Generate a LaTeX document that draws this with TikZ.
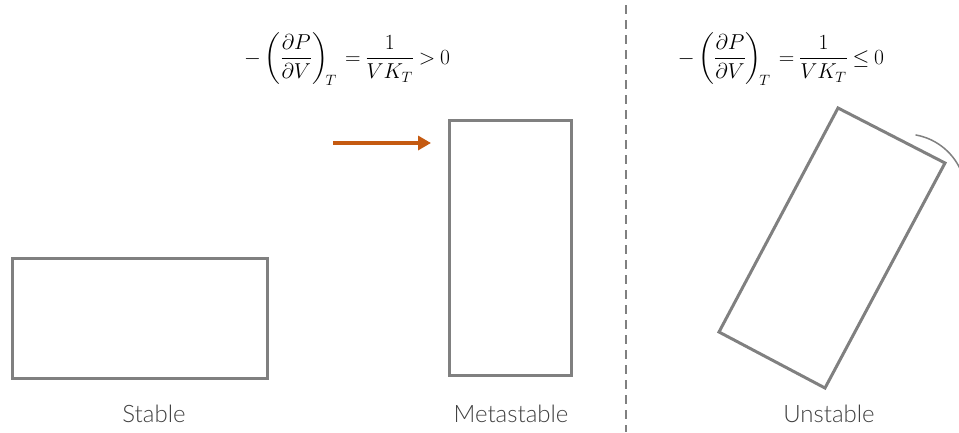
\documentclass[tikz,border=0pt]{standalone}
\usepackage{amsmath}
\usepackage{graphicx}
\usepackage{fontspec}
\usetikzlibrary{arrows.meta}
\setsansfont{Lato Light}
\definecolor{boxgray}{RGB}{128,128,128}
\definecolor{txtgray}{RGB}{64,64,64}
\definecolor{arroworange}{RGB}{197,90,17}
\newcommand{\eqlhs}{\displaystyle -\left(\frac{\partial P}{\partial V}\right)_{\!T} \mskip4mu{=}\mskip4mu \frac{1}{VK_T}}
\begin{document}
\begin{tikzpicture}[x=1pt,y=-1pt,
  block/.style={draw=boxgray,line width=3pt},
  lbl/.style={font=\sffamily\fontsize{24}{28}\selectfont,text=txtgray,inner sep=0pt},
  eqn/.style={font=\fontsize{20.74}{25}\selectfont,inner sep=0pt},
  >={Triangle[length=13pt,width=14pt]}]
\useasboundingbox (0,0) rectangle (959,432);
\begin{scope}
\clip (0,0) rectangle (959,432);
% stable
\draw[block] (12,258) rectangle (267,378);
% metastable
\draw[block] (449,120) rectangle (571,375);
% unstable rotated
\coordinate (ut) at (838,108);
\coordinate (ur) at (945,163);
\coordinate (ub) at (825,388);
\coordinate (ul) at (719,332);
\draw[block,line join=miter] (ut) -- (ur) -- (ub) -- (ul) -- cycle;
% rotation arc
\coordinate (pivot) at (905,195);
\draw[boxgray,line width=1.5pt] (pivot) ++(-80:61) arc[start angle=-80,end angle=-20,radius=61];
% divider
\draw[boxgray,line width=1.5pt,dash pattern=on 9pt off 6pt] (626,5) -- (626,432);
\end{scope}
% arrow
\coordinate (as) at (333,143);
\coordinate (ae) at (431,143);
\draw[arroworange,line width=3.5pt,->] (as) -- (ae);
% equations
\node[eqn] (e1) at (347,59) {\scalebox{1.04}{$\eqlhs \mskip4mu{>}\mskip4mu 0$}};
\node[eqn] (e2) at (781,59) {\scalebox{1.04}{$\eqlhs \mskip4mu{\leq}\mskip4mu 0$}};
% labels
\node[lbl] (l1) at (154,414) {Stable};
\node[lbl] (l2) at (511,414) {Metastable};
\node[lbl] (l3) at (829,414) {Unstable};
\end{tikzpicture}
\end{document}
